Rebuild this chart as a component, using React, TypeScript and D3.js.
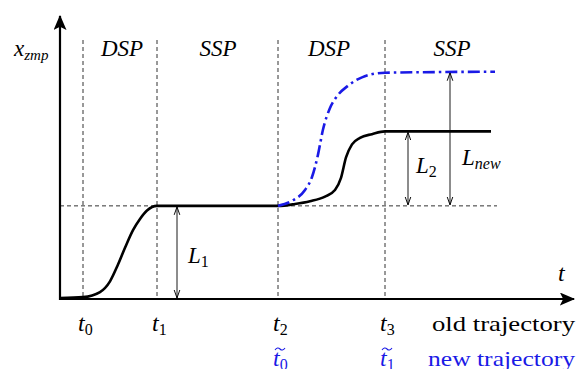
import React from "react";
import * as d3 from "d3";

// time axis: 0..100 units, x_zmp: L1 step = 1
const tTicks = [4.6, 19.4, 43.6, 65];
const tNames = ["0", "1", "2", "3"];
const tNewTicks = [43.6, 65];
const tNewNames = ["0", "1"];
const phases = ["DSP", "SSP", "DSP", "SSP"];
const phaseCenters = [12.4, 31.6, 53.8, 78.4];

const oldX = [0, 4.6, 8, 10, 11.6, 13, 14.6, 16, 17.4, 19.4, 43.6, 47, 50, 53, 55, 56.2, 57.2, 58.4, 60, 62.4, 65, 86.2];
const oldY = [0.01, 0.02, 0.075, 0.19, 0.37, 0.55, 0.74, 0.86, 0.95, 1, 1, 1.02, 1.05, 1.1, 1.17, 1.3, 1.52, 1.66, 1.73, 1.77, 1.8, 1.8];
const newX = [43.6, 46.6, 49, 50.4, 51.6, 52.6, 54, 55.6, 57.6, 60.4, 65, 87];
const newY = [1, 1.06, 1.17, 1.31, 1.55, 1.82, 2.05, 2.19, 2.29, 2.38, 2.43, 2.44];

const L1 = 1;
const L2 = 1.8;
const Lnew = 2.44;
const arrowX = [23.4, 69.6, 78];

const W = 576;
const H = 369;
const FONT = "Times New Roman";

export default function App() {
  const x = d3.scaleLinear().domain([0, 100]).range([60, 560]);
  const y = d3.scaleLinear().domain([0, 3.06]).range([299, 14]);

  const line = d3.line<[number, number]>()
    .x(d => x(d[0]))
    .y(d => y(d[1]))
    .curve(d3.curveMonotoneX);

  const oldPts = oldX.map((v, i) => [v, oldY[i]] as [number, number]);
  const newPts = newX.map((v, i) => [v, newY[i]] as [number, number]);

  const blue = "#1a1ae6";

  const dblArrow = (xv: number, y0: number, y1: number, key: string) => (
    <line key={key} x1={x(xv)} x2={x(xv)} y1={y(y0) - 1} y2={y(y1) + 1}
      stroke="#000" strokeWidth={0.9}
      markerStart="url(#thin)" markerEnd="url(#thin)" />
  );

  return (
    <svg width={W} height={H} style={{ position: "absolute", left: 0, top: 0 }}>
      <defs>
        <marker id="thin" viewBox="0 0 10 10" refX="10" refY="5" markerWidth="8" markerHeight="8"
          markerUnits="userSpaceOnUse" orient="auto-start-reverse">
          <path d="M0,1.5 L10,5 L0,8.5" fill="none" stroke="#000" strokeWidth={1.2} />
        </marker>
        <marker id="big" viewBox="0 0 14 12" refX="13" refY="6" markerWidth="16" markerHeight="13"
          markerUnits="userSpaceOnUse" orient="auto">
          <path d="M0,0 L14,6 L0,12 L3,6 Z" fill="#000" />
        </marker>
      </defs>

      {/* dashed grid */}
      {tTicks.map((t, i) => (
        <line key={"v" + i} x1={x(t)} x2={x(t)} y1={40} y2={y(0)}
          stroke="#333" strokeWidth={1} strokeDasharray="4,3" />
      ))}
      <line x1={x(0)} x2={x(87.4)} y1={y(L1)} y2={y(L1)}
        stroke="#333" strokeWidth={1} strokeDasharray="4,3" />

      {/* axes */}
      <line x1={x(0)} x2={x(0)} y1={y(0) + 1} y2={16} stroke="#000" strokeWidth={2.2} markerEnd="url(#big)" />
      <line x1={x(0) - 1} x2={574} y1={y(0)} y2={y(0)} stroke="#000" strokeWidth={2.2} markerEnd="url(#big)" />

      {/* trajectories */}
      <path d={line(oldPts) || ""} fill="none" stroke="#000" strokeWidth={2.6} />
      <path d={line(newPts) || ""} fill="none" stroke={blue} strokeWidth={2.6}
        strokeDasharray="12,4,2.5,4" />

      {/* L arrows */}
      {dblArrow(arrowX[0], 0, L1, "a1")}
      {dblArrow(arrowX[1], L1, L2, "a2")}
      {dblArrow(arrowX[2], L1, Lnew, "a3")}

      <text x={188} y={263} fontFamily={FONT} fontSize={23} fontStyle="italic">L<tspan fontSize={16} fontStyle="normal" dy={4}>1</tspan></text>
      <text x={416} y={173} fontFamily={FONT} fontSize={23} fontStyle="italic">L<tspan fontSize={16} fontStyle="normal" dy={4}>2</tspan></text>
      <text x={462} y={165} fontFamily={FONT} fontSize={23} fontStyle="italic">L<tspan fontSize={16} dy={4}>new</tspan></text>

      {/* phase labels */}
      {phases.map((p, i) => (
        <text key={"p" + i} x={x(phaseCenters[i])} y={56} fontFamily={FONT} fontSize={23} fontStyle="italic" textAnchor="middle">{p}</text>
      ))}

      {/* axis labels */}
      <text x={14} y={56} fontFamily={FONT} fontSize={23} fontStyle="italic">x<tspan fontSize={15} dy={4}>zmp</tspan></text>
      <text x={558} y={281} fontFamily={FONT} fontSize={24} fontStyle="italic">t</text>

      {tTicks.map((t, i) => (
        <text key={"t" + i} x={x(t) - 5} y={331} fontFamily={FONT} fontSize={24} fontStyle="italic">t<tspan fontSize={16} fontStyle="normal" dy={4}>{tNames[i]}</tspan></text>
      ))}
      <text x={575} y={331} fontFamily={FONT} fontSize={22} textAnchor="end" textLength={143} lengthAdjust="spacingAndGlyphs">old trajectory</text>

      {tNewTicks.map((t, i) => (
        <g key={"n" + i}>
          <text x={x(t) - 5} y={366} fill={blue} fontFamily={FONT} fontSize={24} fontStyle="italic">t<tspan fontSize={16} fontStyle="normal" dy={4}>{tNewNames[i]}</tspan></text>
          <path d={`M${x(t) - 3},${350} q2.5,-3.5 5,-1 t5,-1`} fill="none" stroke={blue} strokeWidth={1.1} />
        </g>
      ))}
      <text x={575} y={366} fill={blue} fontFamily={FONT} fontSize={22} textAnchor="end" textLength={147} lengthAdjust="spacingAndGlyphs">new trajectory</text>
    </svg>
  );
}
